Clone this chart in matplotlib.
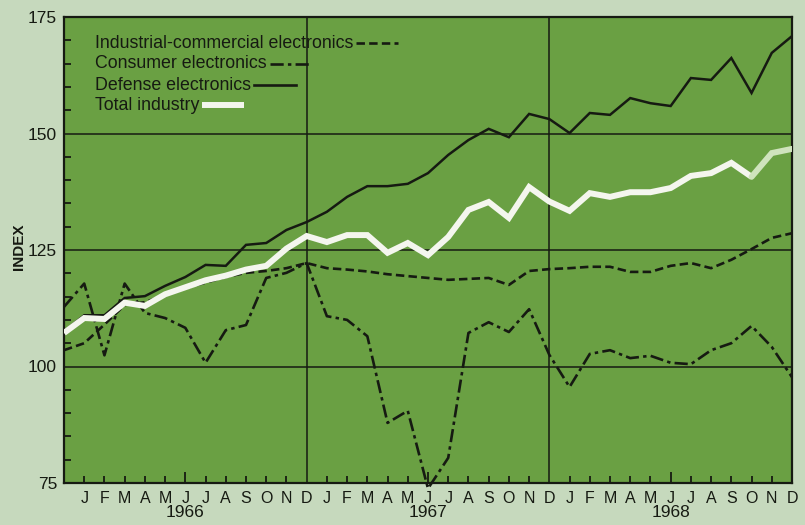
import matplotlib
matplotlib.use("Agg")
import matplotlib.pyplot as plt
import matplotlib.transforms as mtransforms
import numpy as np

plt.rcParams['font.family'] = ['Liberation Sans', 'DejaVu Sans']

# Monthly index values, December 1965 through December 1968
months = ["D", "J", "F", "M", "A", "M", "J", "J", "A", "S", "O", "N", "D",
          "J", "F", "M", "A", "M", "J", "J", "A", "S", "O", "N", "D",
          "J", "F", "M", "A", "M", "J", "J", "A", "S", "O", "N", "D"]
years = ["1966", "1967", "1968"]

industrial = [103.5, 105.0, 109.0, 113.2, 113.8, 115.3, 116.8, 118.0, 119.2, 120.1,
              120.5, 121.1, 122.2, 121.1, 120.8, 120.4, 119.8, 119.4, 119.0, 118.6,
              118.8, 119.0, 117.5, 120.5, 120.9, 121.1, 121.4, 121.4, 120.3, 120.3,
              121.6, 122.2, 121.1, 122.9, 125.2, 127.6, 128.6]
consumer = [112.8, 117.8, 102.4, 117.8, 111.5, 110.4, 108.3, 100.8, 107.8, 108.9,
            119.0, 120.1, 122.2, 110.8, 110.0, 106.5, 87.9, 90.5, 73.8, 80.4,
            107.2, 109.5, 107.4, 112.3, 102.5, 95.6, 102.7, 103.5, 101.8, 102.3,
            100.8, 100.5, 103.5, 105.0, 108.7, 104.2, 97.7]
defense = [107.5, 111.0, 111.0, 114.7, 115.1, 117.3, 119.2, 121.8, 121.6, 126.1,
           126.5, 129.3, 131.0, 133.2, 136.4, 138.7, 138.7, 139.2, 141.5, 145.4,
           148.6, 151.0, 149.2, 154.2, 153.1, 150.1, 154.4, 154.0, 157.6, 156.5,
           155.9, 161.9, 161.5, 166.2, 158.7, 167.3, 170.9]
total = [107.2, 110.4, 110.2, 113.7, 113.0, 115.5, 117.0, 118.5, 119.5, 120.8,
         121.6, 125.3, 128.0, 126.7, 128.2, 128.2, 124.4, 126.5, 123.9, 127.8,
         133.6, 135.3, 131.9, 138.5, 135.4, 133.4, 137.2, 136.4, 137.4, 137.4,
         138.3, 140.9, 141.5, 143.7, 140.7, 145.8, 146.7]

FIG_BG = "#c6d9bd"
PLOT_BG = "#6aa043"
INK = "#161a12"
WHITE = "#f4f6ee"

fig = plt.figure(figsize=(8.05, 5.25), dpi=100, facecolor=FIG_BG)
ax = fig.add_axes([64 / 805, 42 / 525, 728 / 805, 466 / 525])
ax.set_facecolor(PLOT_BG)

x = np.arange(len(months))
ax.set_xlim(0, len(months) - 1)
ax.set_ylim(75, 175)

# Grid lines at 100/125/150 and at each December
for v in (100, 125, 150):
    ax.axhline(v, color=INK, lw=1.1, zorder=1)
for i in (12, 24):
    ax.axvline(i, color=INK, lw=1.1, zorder=1)

# Series
ax.plot(x, defense, color=INK, lw=1.8, zorder=3, solid_joinstyle="miter")
ax.plot(x[:35], total[:35], color=WHITE, lw=4.3, zorder=4,
        solid_joinstyle="miter", solid_capstyle="butt")
ax.plot(x[34:], total[34:], color="#cfe3bd", lw=4.3, zorder=4,
        solid_joinstyle="miter", solid_capstyle="round")
ax.plot(x, industrial, color=INK, lw=1.9, dashes=(3.2, 1.6), zorder=3)
ax.plot(x, consumer, color=INK, lw=1.9, dashes=(5.0, 1.6, 1.3, 1.6), zorder=3,
        clip_on=False)

# Axes frame and ticks
for s in ax.spines.values():
    s.set_color(INK)
    s.set_linewidth(1.6)

ax.set_yticks([75, 100, 125, 150, 175])
ax.set_yticks(np.arange(75, 176, 5), minor=True)
ax.tick_params(axis="y", which="major", direction="in", length=0, pad=5,
               labelsize=12.5, labelcolor=INK)
ax.tick_params(axis="y", which="minor", direction="in", length=5, width=1.3,
               color=INK)

ax.set_xticks(x)
ax.set_xticklabels(months)
ax.tick_params(axis="x", which="major", direction="in", length=5, width=1.3,
               color=INK, pad=6, labelsize=11.5, labelcolor=INK)
ax.get_xticklabels()[0].set_visible(False)
for i, t in enumerate(ax.xaxis.get_major_ticks()):
    if i % 12 == 6:
        t.tick1line.set_markersize(8)
    if i % 12 == 0:
        t.tick1line.set_markersize(0)
ax.tick_params(axis="x", top=False)
ax.tick_params(axis="y", right=False)

# Year labels under each June
trans = mtransforms.blended_transform_factory(ax.transData, ax.transAxes)
for k, yr in enumerate(years):
    ax.text(6 + 12 * k, -0.064, yr, transform=trans, ha="center", va="center",
            fontsize=12.5, color=INK)

fig.text(19 / 805, 1 - 247 / 525, "INDEX", rotation=90, ha="center",
         va="center", fontsize=11, fontweight="bold", color=INK)

# Legend: labels followed by a short sample of each line style
legend = [
    ("Industrial-commercial electronics", dict(color=INK, lw=1.9, dashes=(3.2, 1.6)), 43),
    ("Consumer electronics", dict(color=INK, lw=1.9, dashes=(5.0, 1.6, 1.3, 1.6)), 64),
    ("Defense electronics", dict(color=INK, lw=1.9), 85),
    ("Total industry", dict(color=WHITE, lw=4.3, solid_capstyle="butt"), 105),
]
fig.canvas.draw()
renderer = fig.canvas.get_renderer()
inv = ax.transAxes.inverted()
for label, style, ypix in legend:
    yf = 1 - (ypix - 17) / 466
    t = ax.text((95 - 64) / 728, yf, label, transform=ax.transAxes,
                ha="left", va="center", fontsize=12.8, color=INK, zorder=5)
    bb = t.get_window_extent(renderer)
    x0 = inv.transform((bb.x1 + 3, 0))[0]
    ax.plot([x0, x0 + 42 / 728], [yf, yf], transform=ax.transAxes, zorder=5,
            **style)

fig.savefig("out.png", dpi=100, facecolor=FIG_BG)
